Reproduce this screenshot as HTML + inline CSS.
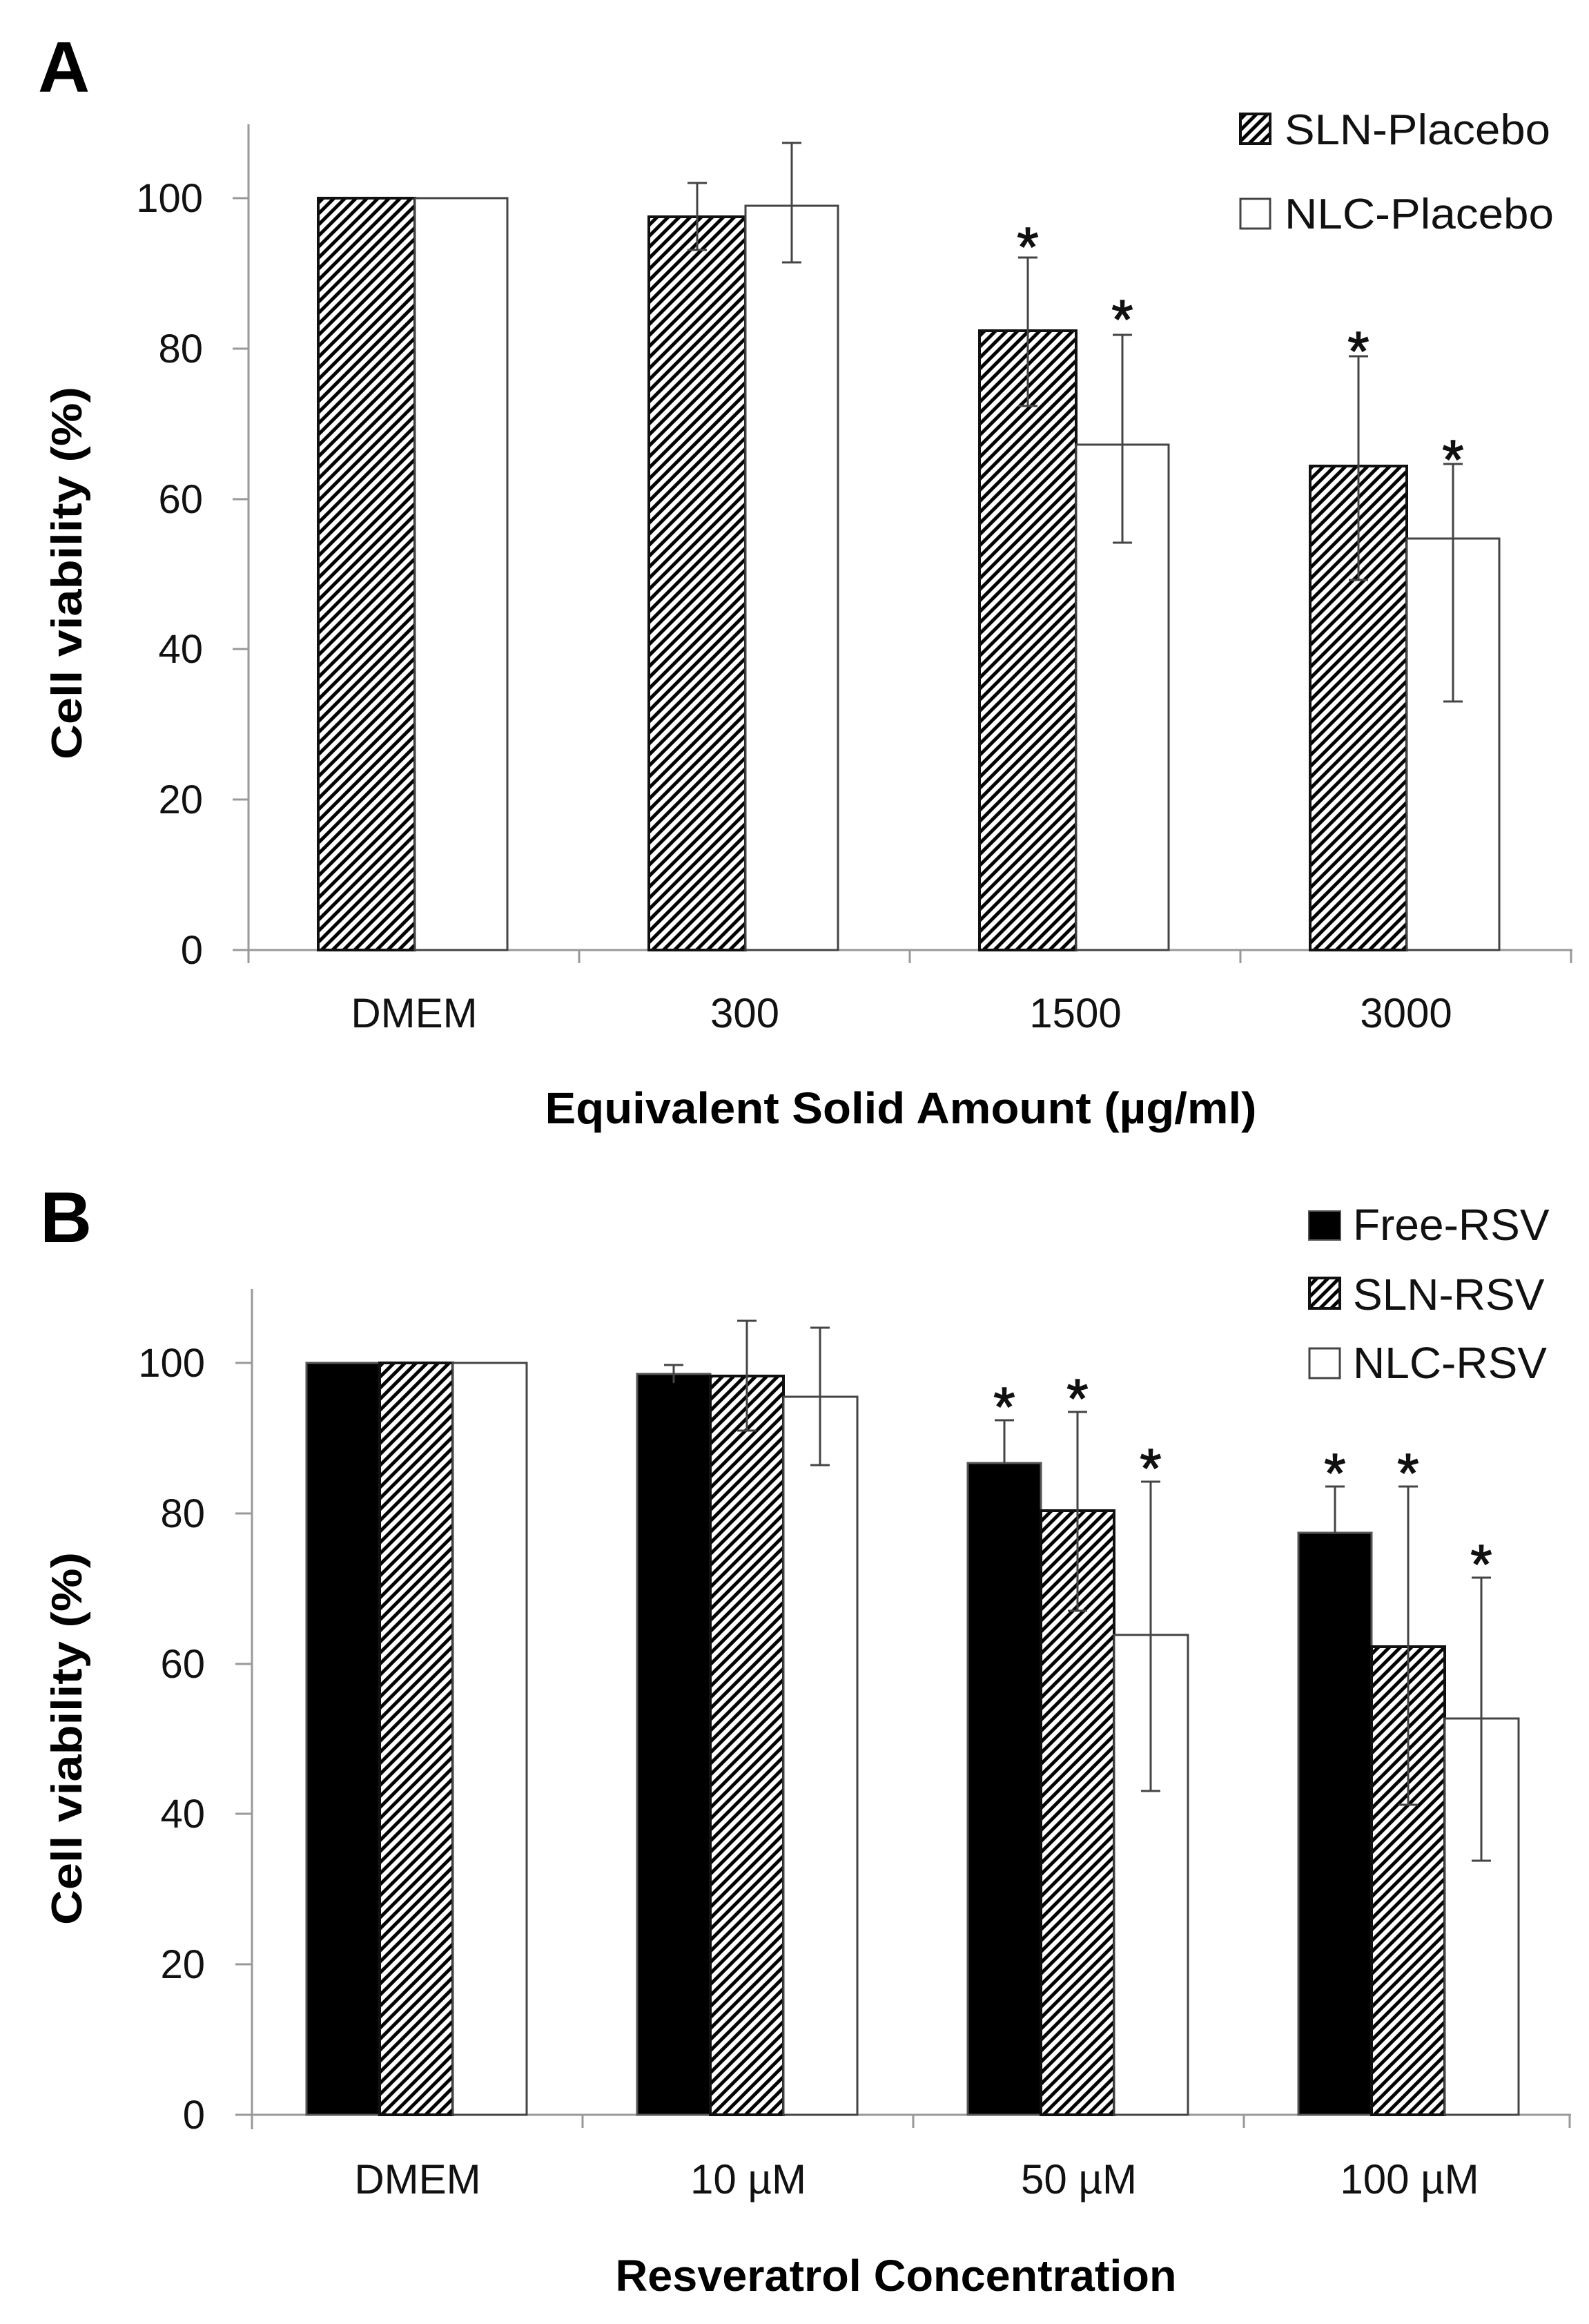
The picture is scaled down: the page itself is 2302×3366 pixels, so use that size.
<!DOCTYPE html>
<html><head><meta charset="utf-8"><style>html,body{margin:0;padding:0;background:#fff}svg{display:block}</style></head>
<body>
<svg width="2302" height="3366" viewBox="0 0 2302 3366" xmlns="http://www.w3.org/2000/svg" font-family="'Liberation Sans', sans-serif">
<defs>
<pattern id="h" patternUnits="userSpaceOnUse" width="11.3" height="11.3" patternTransform="rotate(45)">
<rect width="11.3" height="11.3" fill="#fff"/>
<line x1="2.8" y1="0" x2="2.8" y2="11.3" stroke="#000" stroke-width="5"/>
</pattern>
</defs>
<rect width="2302" height="3366" fill="#fff"/>

<!-- PANEL A -->
<text x="55" y="133" font-size="104" font-weight="bold">A</text>
<g stroke="#999" stroke-width="3">
<line x1="360" y1="180" x2="360" y2="1395"/>
<line x1="337" y1="1376" x2="2278" y2="1376"/>
<line x1="839" y1="1376" x2="839" y2="1395"/><line x1="1318" y1="1376" x2="1318" y2="1395"/><line x1="1797" y1="1376" x2="1797" y2="1395"/><line x1="2276" y1="1376" x2="2276" y2="1395"/>
<line x1="337" y1="287" x2="360" y2="287"/><line x1="337" y1="505" x2="360" y2="505"/><line x1="337" y1="723" x2="360" y2="723"/><line x1="337" y1="940" x2="360" y2="940"/><line x1="337" y1="1158" x2="360" y2="1158"/>
</g>
<g font-size="58" text-anchor="end" fill="#111">
<text x="294" y="307">100</text><text x="294" y="525">80</text><text x="294" y="743">60</text><text x="294" y="960">40</text><text x="294" y="1178">20</text><text x="294" y="1396">0</text>
</g>
<text transform="translate(118,830) rotate(-90)" text-anchor="middle" font-size="62" font-weight="bold" textLength="540" lengthAdjust="spacingAndGlyphs">Cell viability (%)</text>
<!-- bars A -->
<g stroke="#111" stroke-width="4" fill="url(#h)">
<rect x="461" y="287" width="140" height="1089"/>
<rect x="940" y="314" width="140" height="1062"/>
<rect x="1419" y="479" width="140" height="897"/>
<rect x="1898" y="675" width="140" height="701"/>
</g>
<g stroke="#444" stroke-width="3" fill="#fff">
<rect x="601" y="287" width="134" height="1089"/>
<rect x="1080" y="298" width="134" height="1078"/>
<rect x="1559" y="644" width="134" height="732"/>
<rect x="2038" y="780" width="134" height="596"/>
</g>
<g stroke="#444" stroke-width="3">
<line x1="1010" y1="265" x2="1010" y2="362"/><line x1="996" y1="265" x2="1024" y2="265"/><line x1="996" y1="362" x2="1024" y2="362"/>
<line x1="1147" y1="207" x2="1147" y2="380"/><line x1="1133" y1="207" x2="1161" y2="207"/><line x1="1133" y1="380" x2="1161" y2="380"/>
<line x1="1489" y1="373" x2="1489" y2="588"/><line x1="1475" y1="373" x2="1503" y2="373"/><line x1="1475" y1="588" x2="1503" y2="588"/>
<line x1="1626" y1="485" x2="1626" y2="786"/><line x1="1612" y1="485" x2="1640" y2="485"/><line x1="1612" y1="786" x2="1640" y2="786"/>
<line x1="1968" y1="516" x2="1968" y2="840"/><line x1="1954" y1="516" x2="1982" y2="516"/><line x1="1954" y1="840" x2="1982" y2="840"/>
<line x1="2105" y1="672" x2="2105" y2="1016"/><line x1="2091" y1="672" x2="2119" y2="672"/><line x1="2091" y1="1016" x2="2119" y2="1016"/>
</g>
<g font-size="80" text-anchor="middle" fill="#111" stroke="#111" stroke-width="1.5">
<text x="1489" y="385">*</text><text x="1626" y="490">*</text><text x="1968" y="536">*</text><text x="2105" y="693">*</text>
</g>
<!-- legend A -->
<rect x="1797" y="165" width="43" height="43" fill="url(#h)" stroke="#111" stroke-width="4"/>
<rect x="1797" y="288" width="43" height="43" fill="#fff" stroke="#444" stroke-width="3"/>
<g font-size="62" fill="#111">
<text x="1861" y="209" textLength="385" lengthAdjust="spacingAndGlyphs">SLN-Placebo</text>
<text x="1861" y="331" textLength="390" lengthAdjust="spacingAndGlyphs">NLC-Placebo</text>
</g>
<g font-size="60" text-anchor="middle" fill="#111">
<text x="600" y="1488">DMEM</text><text x="1079" y="1488">300</text><text x="1558" y="1488">1500</text><text x="2037" y="1488">3000</text>
</g>
<text x="1305" y="1627" text-anchor="middle" font-size="64" font-weight="bold" textLength="1031" lengthAdjust="spacingAndGlyphs">Equivalent Solid Amount (µg/ml)</text>

<!-- PANEL B -->
<text x="58" y="1799" font-size="104" font-weight="bold">B</text>
<g stroke="#999" stroke-width="3">
<line x1="365" y1="1867" x2="365" y2="3084"/>
<line x1="341" y1="3063" x2="2276" y2="3063"/>
<line x1="844" y1="3063" x2="844" y2="3082"/><line x1="1323" y1="3063" x2="1323" y2="3082"/><line x1="1802" y1="3063" x2="1802" y2="3082"/><line x1="2274" y1="3063" x2="2274" y2="3082"/>
<line x1="341" y1="1974" x2="365" y2="1974"/><line x1="341" y1="2192" x2="365" y2="2192"/><line x1="341" y1="2410" x2="365" y2="2410"/><line x1="341" y1="2627" x2="365" y2="2627"/><line x1="341" y1="2845" x2="365" y2="2845"/>
</g>
<g font-size="58" text-anchor="end" fill="#111">
<text x="297" y="1994">100</text><text x="297" y="2212">80</text><text x="297" y="2430">60</text><text x="297" y="2647">40</text><text x="297" y="2865">20</text><text x="297" y="3083">0</text>
</g>
<text transform="translate(118,2518) rotate(-90)" text-anchor="middle" font-size="62" font-weight="bold" textLength="540" lengthAdjust="spacingAndGlyphs">Cell viability (%)</text>
<!-- bars B -->
<g stroke="#555" stroke-width="3" fill="#000">
<rect x="444" y="1974" width="106" height="1089"/>
<rect x="923" y="1990" width="106" height="1073"/>
<rect x="1402" y="2119" width="106" height="944"/>
<rect x="1881" y="2220" width="106" height="843"/>
</g>
<g stroke="#111" stroke-width="4" fill="url(#h)">
<rect x="550" y="1974" width="106" height="1089"/>
<rect x="1029" y="1993" width="106" height="1070"/>
<rect x="1508" y="2188" width="106" height="875"/>
<rect x="1987" y="2385" width="106" height="678"/>
</g>
<g stroke="#444" stroke-width="3" fill="#fff">
<rect x="656" y="1974" width="107" height="1089"/>
<rect x="1135" y="2023" width="107" height="1040"/>
<rect x="1614" y="2368" width="107" height="695"/>
<rect x="2093" y="2489" width="107" height="574"/>
</g>
<g stroke="#444" stroke-width="3">
<line x1="976" y1="1977" x2="976" y2="2003"/><line x1="962" y1="1977" x2="990" y2="1977"/>
<line x1="1082" y1="1913" x2="1082" y2="2072"/><line x1="1068" y1="1913" x2="1096" y2="1913"/><line x1="1068" y1="2072" x2="1096" y2="2072"/>
<line x1="1188" y1="1923" x2="1188" y2="2122"/><line x1="1174" y1="1923" x2="1202" y2="1923"/><line x1="1174" y1="2122" x2="1202" y2="2122"/>
<line x1="1455" y1="2057" x2="1455" y2="2119"/><line x1="1441" y1="2057" x2="1469" y2="2057"/>
<line x1="1561" y1="2045" x2="1561" y2="2333"/><line x1="1547" y1="2045" x2="1575" y2="2045"/><line x1="1547" y1="2333" x2="1575" y2="2333"/>
<line x1="1667" y1="2146" x2="1667" y2="2594"/><line x1="1653" y1="2146" x2="1681" y2="2146"/><line x1="1653" y1="2594" x2="1681" y2="2594"/>
<line x1="1934" y1="2153" x2="1934" y2="2220"/><line x1="1920" y1="2153" x2="1948" y2="2153"/>
<line x1="2040" y1="2153" x2="2040" y2="2614"/><line x1="2026" y1="2153" x2="2054" y2="2153"/><line x1="2026" y1="2614" x2="2054" y2="2614"/>
<line x1="2146" y1="2285" x2="2146" y2="2695"/><line x1="2132" y1="2285" x2="2160" y2="2285"/><line x1="2132" y1="2695" x2="2160" y2="2695"/>
</g>
<g font-size="80" text-anchor="middle" fill="#111" stroke="#111" stroke-width="1.5">
<text x="1455" y="2065">*</text><text x="1561" y="2053">*</text><text x="1667" y="2154">*</text>
<text x="1934" y="2161">*</text><text x="2040" y="2161">*</text><text x="2146" y="2293">*</text>
</g>
<!-- legend B -->
<rect x="1896" y="1754" width="46" height="42" fill="#000" stroke="#555" stroke-width="2"/>
<rect x="1897" y="1851" width="44" height="44" fill="url(#h)" stroke="#111" stroke-width="4"/>
<rect x="1897" y="1953" width="44" height="43" fill="#fff" stroke="#444" stroke-width="3"/>
<g font-size="64" fill="#111">
<text x="1960" y="1796">Free-RSV</text>
<text x="1960" y="1897">SLN-RSV</text>
<text x="1960" y="1996">NLC-RSV</text>
</g>
<g font-size="60" text-anchor="middle" fill="#111">
<text x="605" y="3177">DMEM</text><text x="1084" y="3177">10 µM</text><text x="1563" y="3177">50 µM</text><text x="2042" y="3177">100 µM</text>
</g>
<text x="1298" y="3318" text-anchor="middle" font-size="64" font-weight="bold" textLength="813" lengthAdjust="spacingAndGlyphs">Resveratrol Concentration</text>
</svg>
</body></html>
